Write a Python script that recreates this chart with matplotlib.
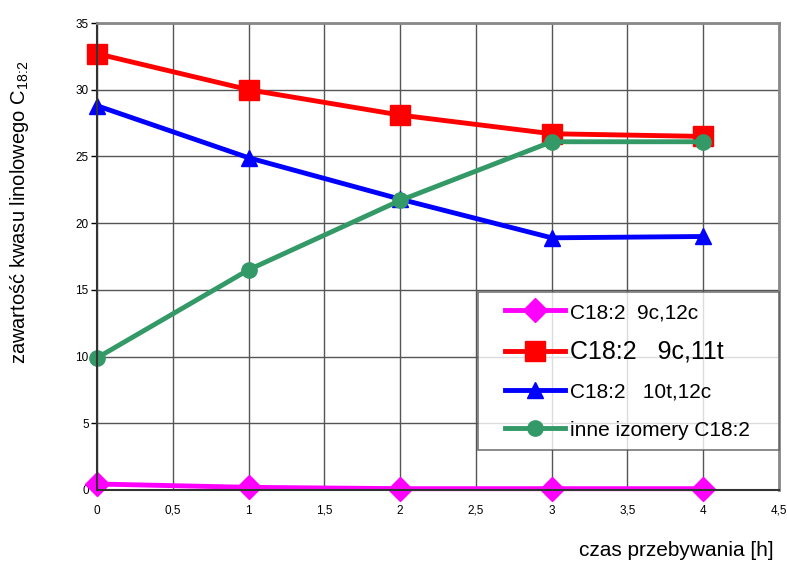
import matplotlib
matplotlib.use("Agg")
import matplotlib.pyplot as plt
from matplotlib.ticker import FuncFormatter, MultipleLocator
from matplotlib.legend_handler import HandlerLine2D
from matplotlib.lines import Line2D

plt.rcParams['font.family'] = ['Liberation Sans', 'DejaVu Sans']

hours = [0, 1, 2, 3, 4]
c_9c12c = [0.45, 0.2, 0.1, 0.1, 0.1]
c_9c11t = [32.7, 30.0, 28.1, 26.7, 26.5]
c_10t12c = [28.8, 24.9, 21.8, 18.9, 19.0]
c_inne = [9.9, 16.5, 21.7, 26.1, 26.1]

labels = ["C18:2  9c,12c", "C18:2   9c,11t", "C18:2   10t,12c", "inne izomery C18:2"]

fig = plt.figure(figsize=(7.87, 5.62), dpi=100)
ax = fig.add_axes([97/787, 72/562, 682/787, 467/562])

ax.plot(hours, c_9c12c, color='#FF00FF', lw=3.5, marker='D', ms=12, label=labels[0])
ax.plot(hours, c_9c11t, color='#FF0000', lw=3.5, marker='s', ms=15, label=labels[1])
ax.plot(hours, c_10t12c, color='#0000FF', lw=3.5, marker='^', ms=12, label=labels[2])
ax.plot(hours, c_inne, color='#339966', lw=3.5, marker='o', ms=11, label=labels[3])

ax.set_xlim(0, 4.5)
ax.set_ylim(0, 35)
ax.xaxis.set_major_locator(MultipleLocator(0.5))
ax.yaxis.set_major_locator(MultipleLocator(5))
fmt = FuncFormatter(lambda v, p: (f"{v:g}").replace('.', ','))
ax.xaxis.set_major_formatter(fmt)
ax.yaxis.set_major_formatter(fmt)
ax.grid(True, color='#555555', lw=1)
ax.set_axisbelow(True)
for s in ['top', 'right']:
    ax.spines[s].set_color('#888888')
    ax.spines[s].set_linewidth(2)
for s in ['left', 'bottom']:
    ax.spines[s].set_color('#333333')
    ax.spines[s].set_linewidth(1.5)
ax.tick_params(axis='y', length=4, width=1, labelsize=8.5, pad=2)
ax.tick_params(axis='x', length=0, labelsize=8.5, pad=17)
for t in ax.get_xticklabels():
    t.set_verticalalignment('baseline')
for line in ax.get_lines():
    line.set_clip_on(False)

leg = ax.legend(loc='lower right', bbox_to_anchor=(0.558, 0.085, 0.442, 0.334),
                mode='expand', frameon=True, fancybox=False, edgecolor='#555555',
                fontsize=15, handlelength=3.7, borderpad=0.5, labelspacing=0.84,
                handletextpad=0.25, borderaxespad=0, handleheight=1.0,
                handler_map={Line2D: HandlerLine2D(xpad=0.82)})
leg.get_frame().set_linewidth(1.2)
for i, t in enumerate(leg.get_texts()):
    if i == 1:
        t.set_fontsize(18)

fig.text(20/787, 1 - 212/562, "zawartość kwasu linolowego C$_{\\mathregular{18\\!:\\!2}}$",
         rotation=90, ha='center', va='center', fontsize=14.5)
fig.text(774/787, 1 - 550/562, "czas przebywania [h]", ha='right', va='center', fontsize=15)

fig.savefig("out.png", dpi=100)
